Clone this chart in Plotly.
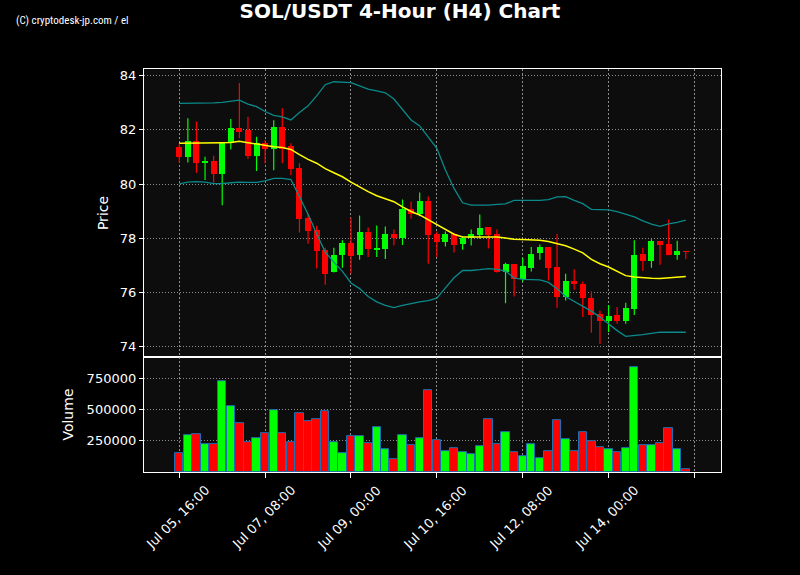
import pandas as pd
import plotly.graph_objects as go
from plotly.subplots import make_subplots

# ---------------- data ----------------
start_time = "2025-07-05 16:00"
n_candles = 60

opens = [81.36, 81.01, 81.59, 80.80, 80.85, 80.38, 81.51, 82.07, 81.98, 81.05,
         81.52, 81.31, 82.11, 81.41, 80.60, 78.75, 78.30, 77.56, 76.74, 77.37,
         77.82, 77.37, 78.22, 77.60, 77.60, 78.15, 78.01, 79.07, 78.88, 79.37,
         78.15, 77.86, 78.15, 77.79, 78.01, 78.11, 78.40, 78.15, 76.74, 77.04,
         76.49, 76.91, 77.46, 77.67, 76.93, 75.83, 76.44, 76.32, 75.81, 75.19,
         74.96, 75.15, 74.93, 75.37, 77.41, 77.15, 77.89, 77.78, 77.37, 77.52]
highs = [81.51, 82.43, 82.31, 81.01, 81.05, 81.51, 82.40, 83.73, 82.49, 81.75,
         81.63, 82.36, 82.80, 81.51, 80.77, 78.91, 78.46, 77.65, 77.65, 77.93,
         78.77, 78.84, 78.40, 78.47, 78.43, 78.32, 79.43, 79.36, 79.69, 79.54,
         78.25, 78.25, 78.20, 78.06, 78.32, 78.88, 78.40, 78.32, 77.10, 77.04,
         77.28, 77.68, 77.77, 77.67, 78.17, 76.69, 76.86, 76.40, 76.04, 75.33,
         75.54, 75.46, 75.62, 77.93, 77.65, 77.96, 77.89, 78.69, 77.91, 77.54]
lows = [80.79, 80.80, 80.42, 80.15, 80.05, 79.22, 81.28, 81.69, 80.94, 80.48,
        80.77, 80.51, 80.77, 80.33, 78.21, 77.80, 76.88, 76.28, 76.74, 76.91,
        76.69, 77.21, 77.31, 77.31, 77.23, 77.73, 77.75, 78.72, 78.81, 77.06,
        77.31, 77.70, 77.47, 77.58, 77.73, 77.98, 77.62, 76.74, 75.60, 75.85,
        76.40, 76.77, 77.21, 76.44, 75.43, 75.70, 76.10, 75.09, 74.51, 74.10,
        74.54, 74.84, 74.84, 75.17, 76.79, 76.91, 77.02, 77.37, 77.21, 77.23]
closes = [81.01, 81.59, 80.79, 80.82, 80.38, 81.51, 82.07, 81.93, 81.05, 81.51,
          81.31, 82.11, 81.31, 80.56, 78.70, 78.26, 77.52, 76.69, 77.40, 77.82,
          77.35, 78.22, 77.60, 77.62, 78.15, 78.01, 79.07, 78.88, 79.37, 78.11,
          77.86, 78.15, 77.75, 78.01, 78.15, 78.37, 78.11, 76.74, 77.04, 76.49,
          76.96, 77.43, 77.67, 76.91, 75.83, 76.44, 76.30, 75.78, 75.15, 74.96,
          75.14, 74.93, 75.41, 77.37, 77.15, 77.89, 77.74, 77.37, 77.52, 77.50]
volumes = [154000, 297000, 305000, 226000, 226000, 726000, 527000, 393000, 242000, 274000,
           313000, 496000, 313000, 242000, 472000, 408000, 424000, 488000, 242000, 154000,
           289000, 289000, 234000, 361000, 186000, 104000, 297000, 218000, 274000, 654000,
           258000, 170000, 194000, 162000, 147000, 210000, 424000, 226000, 321000, 162000,
           131000, 226000, 115000, 170000, 416000, 266000, 170000, 321000, 250000, 202000,
           186000, 162000, 194000, 837000, 218000, 218000, 234000, 353000, 186000, 20000]
sma = [81.51, 81.51, 81.51, 81.51, 81.52, 81.53, 81.54, 81.58, 81.53, 81.48,
       81.42, 81.38, 81.35, 81.28, 81.09, 80.91, 80.77, 80.57, 80.42, 80.27,
       80.07, 79.89, 79.72, 79.57, 79.46, 79.35, 79.16, 78.99, 78.86, 78.69,
       78.51, 78.32, 78.15, 78.05, 78.05, 78.06, 78.05, 78.05, 78.01, 77.96,
       77.95, 77.94, 77.93, 77.88, 77.79, 77.72, 77.60, 77.46, 77.22, 77.06,
       76.94, 76.78, 76.62, 76.57, 76.54, 76.52, 76.51, 76.53, 76.56, 76.59]
bb_upper = [82.98, 82.98, 82.98, 82.98, 83.00, 83.02, 83.06, 83.10, 82.95, 82.86,
            82.68, 82.54, 82.48, 82.37, 82.64, 82.89, 83.26, 83.67, 83.78, 83.77,
            83.75, 83.63, 83.51, 83.44, 83.37, 83.14, 82.77, 82.37, 82.15, 81.73,
            81.32, 80.52, 79.84, 79.31, 79.22, 79.22, 79.22, 79.25, 79.27, 79.40,
            79.41, 79.40, 79.40, 79.43, 79.53, 79.54, 79.40, 79.28, 79.07, 79.07,
            79.05, 78.98, 78.89, 78.79, 78.64, 78.52, 78.44, 78.53, 78.59, 78.67]
bb_lower = [80.01, 80.07, 80.09, 80.07, 80.02, 80.02, 80.05, 80.07, 80.06, 80.06,
            80.12, 80.21, 80.21, 80.17, 79.53, 78.89, 78.17, 77.49, 77.12, 76.78,
            76.35, 76.14, 75.85, 75.65, 75.52, 75.44, 75.52, 75.59, 75.65, 75.70,
            75.79, 76.17, 76.54, 76.81, 76.81, 76.84, 76.88, 76.85, 76.79, 76.54,
            76.48, 76.47, 76.46, 76.37, 76.14, 75.85, 75.68, 75.48, 75.31, 75.09,
            74.84, 74.59, 74.38, 74.40, 74.44, 74.49, 74.53, 74.53, 74.52, 74.53]
tick_labels = ["Jul 05, 16:00", "Jul 07, 08:00", "Jul 09, 00:00",
               "Jul 10, 16:00", "Jul 12, 08:00", "Jul 14, 00:00", ""]
price_ticks = [74, 76, 78, 80, 82, 84]
volume_ticks = [250000, 500000, 750000]

# ---------------- build ----------------
step = pd.Timedelta(hours=4)
times = pd.date_range(start_time, periods=n_candles, freq="4h")
t0 = times[0]
step_ms = step.total_seconds() * 1000

UP = "#00ff00"
DOWN = "#ff0000"
colors = [UP if c >= o else DOWN for o, c in zip(opens, closes)]
body_base = [min(o, c) for o, c in zip(opens, closes)]
body_h = [max(abs(c - o), 0.025) for o, c in zip(opens, closes)]

fig = make_subplots(rows=2, cols=1, shared_xaxes=True, vertical_spacing=0,
                    row_heights=[0.715, 0.285])

# wicks
for col in (UP, DOWN):
    wx, wy = [], []
    for t, h, l, c in zip(times, highs, lows, colors):
        if c == col:
            wx += [t, t, None]
            wy += [l, h, None]
    fig.add_trace(go.Scatter(x=wx, y=wy, mode="lines",
                             line=dict(color=col, width=1.2),
                             hoverinfo="skip", showlegend=False), row=1, col=1)

# bodies
fig.add_trace(go.Bar(x=times, y=body_h, base=body_base,
                     width=0.7 * step_ms,
                     marker=dict(color=colors, line=dict(width=0)),
                     showlegend=False), row=1, col=1)

# bollinger + sma
fig.add_trace(go.Scatter(x=times, y=bb_upper, mode="lines",
                         line=dict(color="#0a8a8a", width=1.3), showlegend=False), row=1, col=1)
fig.add_trace(go.Scatter(x=times, y=bb_lower, mode="lines",
                         line=dict(color="#0a8a8a", width=1.3), showlegend=False), row=1, col=1)
fig.add_trace(go.Scatter(x=times, y=sma, mode="lines",
                         line=dict(color="#ffff00", width=1.5), showlegend=False), row=1, col=1)

# volume
fig.add_trace(go.Bar(x=times, y=volumes, width=0.97 * step_ms,
                     marker=dict(color=colors, line=dict(color="#1f6fb4", width=1)),
                     showlegend=False), row=2, col=1)

tickvals = [t0 + step * (10 * k) for k in range(len(tick_labels))]
x_range = [t0 - step * 4.11, t0 + step * 63.1]

axis_common = dict(showline=True, linecolor="white", linewidth=1.3, mirror=True,
                   showgrid=True, gridcolor="rgba(175,175,175,0.8)",
                   gridwidth=1, zeroline=False, color="white",
                   tickfont=dict(family="DejaVu Sans", size=13, color="white"))

fig.update_xaxes(**axis_common, griddash="2px,2px", range=x_range,
                 tickvals=tickvals, ticktext=[""] * len(tickvals))
fig.update_xaxes(showticklabels=False, ticks="", row=1, col=1)
fig.update_xaxes(ticks="outside", ticklen=5, tickcolor="white", row=2, col=1)

fig.update_yaxes(**axis_common, griddash="1px,2px", ticks="outside", ticklen=4, tickcolor="white")
fig.update_yaxes(range=[73.61, 84.25], tickvals=price_ticks, row=1, col=1)
fig.update_yaxes(range=[0, 920000], tickvals=volume_ticks, tickformat="d", row=2, col=1)

L, R, T, B = 144, 79, 69, 103
pw = 800 - L - R

annotations = [
    dict(text="Price", xref="paper", yref="paper", x=(103 - L) / pw, y=0.285 + 0.715 / 2,
         xanchor="center", yanchor="middle", textangle=-90, showarrow=False,
         font=dict(family="DejaVu Sans", size=14, color="white")),
    dict(text="Volume", xref="paper", yref="paper", x=(68 - L) / pw, y=0.285 / 2,
         xanchor="center", yanchor="middle", textangle=-90, showarrow=False,
         font=dict(family="DejaVu Sans", size=14, color="white")),
    dict(text="(C) cryptodesk-jp.com / el", xref="paper", yref="paper",
         x=(14 - L) / pw, y=1 + (T - 21) / (575 - T - B), xanchor="left", yanchor="middle",
         showarrow=False,
         font=dict(family="Liberation Sans Narrow, Roboto Condensed, sans-serif",
                   size=11, color="white")),
]
for tv, tl in zip(tickvals, tick_labels):
    if tl:
        annotations.append(dict(text=tl, x=tv, xref="x2", y=0, yref="paper",
                                xanchor="center", yanchor="top", textangle=-45,
                                xshift=-2, yshift=-9, showarrow=False, borderpad=0,
                                font=dict(family="DejaVu Sans", size=13, color="white")))

fig.update_layout(
    width=800, height=575,
    paper_bgcolor="#000000", plot_bgcolor="#0d0d0d",
    margin=dict(l=L, r=R, t=T, b=B),
    barmode="overlay", bargap=0,
    showlegend=False,
    font=dict(family="DejaVu Sans", color="white", size=13),
    title=dict(text="<b>SOL/USDT 4-Hour (H4) Chart</b>", x=0.5, xanchor="center",
               y=1 - 11 / 575, yanchor="middle", yref="container",
               font=dict(family="DejaVu Sans", size=20, color="white")),
    annotations=annotations,
)

fig.write_html("out.html", config={"displayModeBar": False},
               post_script="document.body.style.margin='0';document.body.style.background='#000';")
